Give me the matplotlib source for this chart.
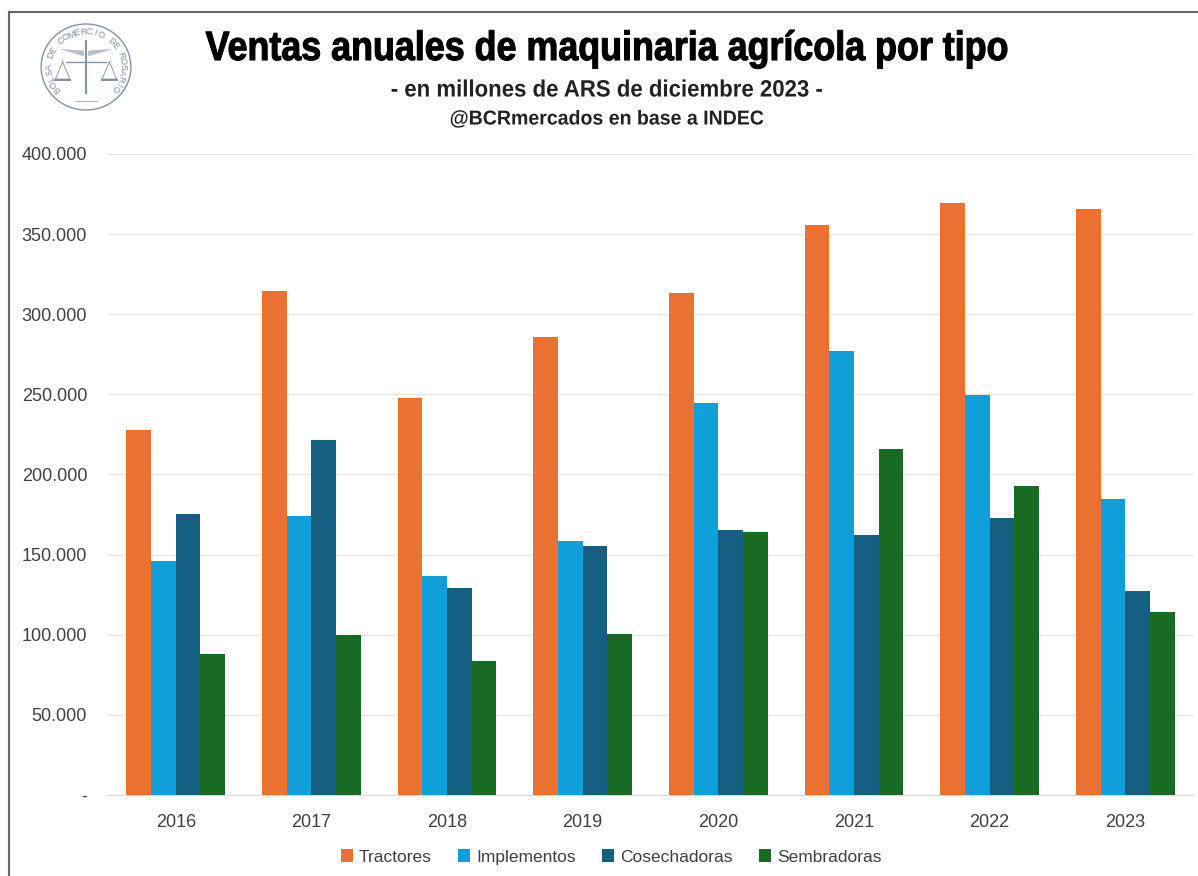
import matplotlib
matplotlib.use('Agg')
import matplotlib.pyplot as plt
import matplotlib.patches as patches
from matplotlib.patheffects import AbstractPathEffect
from matplotlib.transforms import Affine2D
import numpy as np

anios = ['2016', '2017', '2018', '2019', '2020', '2021', '2022', '2023']
tractores = [228000, 314500, 247500, 285500, 313500, 355500, 369500, 365500]
implementos = [146000, 174000, 136500, 158500, 244500, 277000, 249500, 185000]
cosechadoras = [175500, 221500, 129000, 155500, 165500, 162500, 173000, 127500]
sembradoras = [88000, 100000, 83500, 100500, 164000, 216000, 193000, 114500]

series = [tractores, implementos, cosechadoras, sembradoras]
nombres = ['Tractores', 'Implementos', 'Cosechadoras', 'Sembradoras']
colores = ['#EB7133', '#109FD9', '#156082', '#196B24']
texto_sello = 'BOLSA DE COMERCIO DE ROSARIO'

W, H = 1198, 876
plt.rcParams['font.family'] = ['Liberation Sans', 'DejaVu Sans']


# angosta el texto en horizontal, no hay fuente condensada instalada
class Angostar(AbstractPathEffect):
    def __init__(self, cx, sx, grosor=0):
        super().__init__()
        self.cx = cx
        self.sx = sx
        self.grosor = grosor

    def draw_path(self, renderer, gc, tpath, affine, rgbFace=None):
        t = affine + Affine2D().translate(-self.cx, 0).scale(self.sx, 1).translate(self.cx, 0)
        gc0 = renderer.new_gc()
        gc0.copy_properties(gc)
        gc0.set_linewidth(self.grosor)
        gc0.set_foreground(rgbFace)
        renderer.draw_path(gc0, tpath, t, rgbFace)
        gc0.restore()


fig = plt.figure(figsize=(W / 100, H / 100), dpi=100)
ax = fig.add_axes([108 / W, 1 - 795 / H, (1193 - 108) / W, (795 - 154) / H])

x = np.arange(len(anios))
ancho = 0.182
for i in range(4):
    ax.bar(x + (i - 1.5) * ancho, series[i], ancho, color=colores[i], label=nombres[i], zorder=3)

ax.set_xlim(-0.5, 7.5)
ax.set_ylim(0, 400000)
ax.set_xticks(x)
ax.set_xticklabels(anios)
ticks = list(range(0, 400001, 50000))
ax.set_yticks(ticks)
ax.set_yticklabels(['-'] + [f'{t:,}'.replace(',', '.') for t in ticks[1:]])
ax.tick_params(length=0, labelsize=13, labelcolor='#404040', pad=15)
ax.tick_params(axis='x', pad=14)
ax.grid(axis='y', color='#E6E6E6', lw=1, zorder=0)
for lado in ['top', 'right', 'left']:
    ax.spines[lado].set_visible(False)
ax.spines['bottom'].set_color('#D9D9D9')

fig.legend(loc='center', bbox_to_anchor=(611 / W, 1 - 857 / H), ncol=4, frameon=False,
           fontsize=12.5, labelcolor='#404040', handlelength=0.7, handleheight=0.7,
           handletextpad=0.35, columnspacing=1.5)

cx = 607
fig.text(cx / W, 1 - 49 / H, 'Ventas anuales de maquinaria agrícola por tipo', ha='center', va='center',
         fontsize=29.5, fontweight='bold', color='black', path_effects=[Angostar(cx, 0.875, 0.8)])
fig.text(cx / W, 1 - 90 / H, '- en millones de ARS de diciembre 2023 -', ha='center', va='center',
         fontsize=17, fontweight='bold', color='#222222', path_effects=[Angostar(cx, 0.94)])
fig.text(cx / W, 1 - 119 / H, '@BCRmercados en base a INDEC', ha='center', va='center',
         fontsize=14.5, fontweight='bold', color='#222222', path_effects=[Angostar(cx, 0.97)])

# sello de la bolsa
gris = '#8492A6'
sello = fig.add_axes([38 / W, 1 - 113 / H, 96 / W, 92 / H])
sello.set_xlim(-1.07, 1.07)
sello.set_ylim(-1.07, 1.07)
sello.axis('off')
sello.add_patch(patches.Circle((0, 0), 1, fill=False, ec=gris, lw=1))
angulos = np.linspace(218, -38, len(texto_sello))
for letra, ang in zip(texto_sello, angulos):
    r = np.radians(ang)
    sello.text(0.82 * np.cos(r), 0.82 * np.sin(r), letra, fontsize=6.5, color=gris, ha='center', va='center',
               rotation=ang - 90)
# balanza y caduceo
sello.plot([-0.45, 0.45], [0.12, 0.12], color=gris, lw=1)
sello.plot([0, 0], [-0.6, 0.6], color=gris, lw=1.5)
sello.plot([-0.52, -0.68, -0.36, -0.52], [0.12, -0.28, -0.28, 0.12], color=gris, lw=0.6)
sello.plot([0.52, 0.68, 0.36, 0.52], [0.12, -0.28, -0.28, 0.12], color=gris, lw=0.6)
sello.plot([-0.68, -0.36], [-0.3, -0.3], color=gris, lw=1.5)
sello.plot([0.68, 0.36], [-0.3, -0.3], color=gris, lw=1.5)
sello.fill([-0.6, -0.05, -0.05], [0.42, 0.25, 0.38], color=gris, alpha=0.6, lw=0)
sello.fill([0.6, 0.05, 0.05], [0.42, 0.25, 0.38], color=gris, alpha=0.6, lw=0)
sello.plot([-0.25, 0.25], [-0.78, -0.78], color=gris, lw=0.5)

# marco del recuadro
fig.add_artist(plt.Line2D([9 / W, 9 / W], [0, 1 - 12 / H], color='#666666', lw=1.5))
fig.add_artist(plt.Line2D([9 / W, 1], [1 - 12 / H, 1 - 12 / H], color='#666666', lw=1.5))
fig.savefig('out.png', dpi=100)
